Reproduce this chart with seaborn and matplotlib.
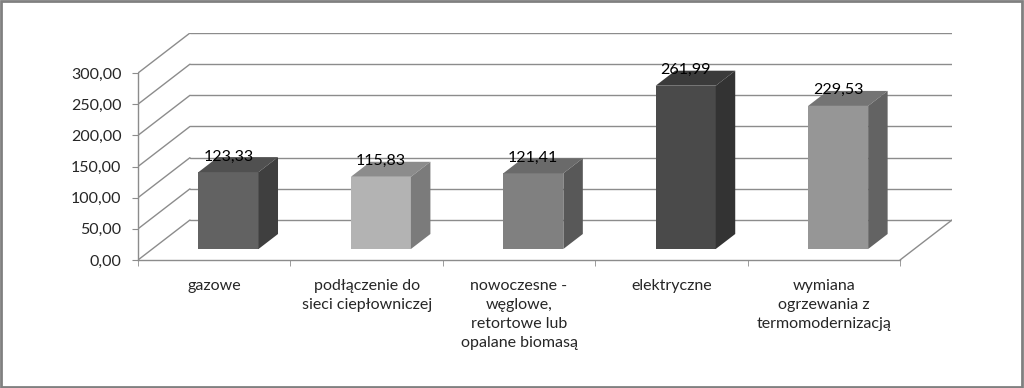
import matplotlib
matplotlib.use("Agg")
import matplotlib.pyplot as plt
import seaborn as sns
import pandas as pd
from matplotlib.patches import Polygon, Rectangle

categories = [
    "gazowe",
    "podłączenie do\nsieci ciepłowniczej",
    "nowoczesne -\nwęglowe,\nretortowe lub\nopalane biomasą",
    "elektryczne",
    "wymiana\nogrzewania z\ntermomodernizacją",
]
values = [123.33, 115.83, 121.41, 261.99, 229.53]
value_labels = ["123,33", "115,83", "121,41", "261,99", "229,53"]
front_colors = ["#626262", "#b3b3b3", "#808080", "#4a4a4a", "#969696"]
side_colors = ["#3f3f3f", "#7b7b7b", "#585858", "#333333", "#636363"]
top_colors = ["#505050", "#8c8c8c", "#6a6a6a", "#3b3b3b", "#747474"]
y_ticks = [0, 50, 100, 150, 200, 250, 300]
y_ticklabels = ["0,00", "50,00", "100,00", "150,00", "200,00", "250,00", "300,00"]

sns.set_style("white")
plt.rcParams["font.family"] = ["Lato", "DejaVu Sans"]

FS = 11.5
# oblique projection for the 3-D look (depth 1 = back wall)
DX = 0.341      # x-shift in category units for full depth
DY = 64.2       # y-shift in value units for full depth
d_front, d_back = 0.275, 0.65

fig = plt.figure(figsize=(10.24, 3.88), dpi=100)
ax = fig.add_axes([138 / 1024, (388 - 260) / 388, (952 - 138) / 1024, (260 - 33) / 388])

df = pd.DataFrame({"cat": categories, "val": values})
sns.barplot(data=df, x="cat", y="val", hue="cat", palette=front_colors,
            width=0.394, legend=False, ax=ax, saturation=1, zorder=3, linewidth=0)

xmin, xmax = -0.5, len(categories) - 0.5
grid_c = "#8c8c8c"
# back wall gridlines and left wall diagonals
for v in y_ticks:
    ax.plot([xmin + DX, xmax + DX], [v + DY, v + DY], color=grid_c, lw=1.0, zorder=1)
    ax.plot([xmin, xmin + DX], [v, v + DY], color=grid_c, lw=1.0, zorder=1)
# floor right edge
ax.plot([xmax, xmax + DX], [0, DY], color=grid_c, lw=1.0, zorder=1)

sx, sy = DX * d_front, DY * d_front
ddx, ddy = DX * (d_back - d_front), DY * (d_back - d_front)
for i, p in enumerate(ax.patches):
    p.set_x(p.get_x() + sx)
    p.set_y(p.get_y() + sy)
    x0, x1 = p.get_x(), p.get_x() + p.get_width()
    yb, yt = p.get_y(), p.get_y() + p.get_height()
    ax.add_patch(Polygon([(x0, yt), (x1, yt), (x1 + ddx, yt + ddy), (x0 + ddx, yt + ddy)],
                         closed=True, facecolor=top_colors[i], edgecolor="none", zorder=3))
    ax.add_patch(Polygon([(x1, yb), (x1, yt), (x1 + ddx, yt + ddy), (x1 + ddx, yb + ddy)],
                         closed=True, facecolor=side_colors[i], edgecolor="none", zorder=3))
    ax.text((x0 + x1) / 2, yt + ddy + 1, value_labels[i], ha="center", va="center",
            fontsize=FS, color="black", zorder=5)

ax.set_xlim(xmin, xmax + DX)
ax.set_ylim(0, 300 + DY)
ax.set_yticks(y_ticks)
ax.set_yticklabels(y_ticklabels, fontsize=FS)
ax.set_xticks(range(len(categories)))
ax.set_xticklabels(categories, fontsize=FS, linespacing=1.45)
ax.set_xticks([k - 0.5 for k in range(len(categories) + 1)], minor=True)
ax.tick_params(axis="x", which="major", length=0, pad=14)
ax.tick_params(axis="x", which="minor", length=4, color=grid_c, direction="out", bottom=True)
ax.tick_params(axis="y", length=4, color=grid_c, direction="out", left=True, pad=8)
ax.set_xlabel("")
ax.set_ylabel("")
for s in ["top", "right"]:
    ax.spines[s].set_visible(False)
ax.spines["left"].set_bounds(0, 300)
ax.spines["bottom"].set_bounds(xmin, xmax)
for s in ["left", "bottom"]:
    ax.spines[s].set_color(grid_c)
    ax.spines[s].set_linewidth(1.0)
ax.grid(False)

# outer frame
fig.patches.append(Rectangle((0.001, 0.003), 0.997, 0.994, transform=fig.transFigure,
                             fill=False, edgecolor="#808080", linewidth=2))

fig.savefig("out.png", dpi=100)
